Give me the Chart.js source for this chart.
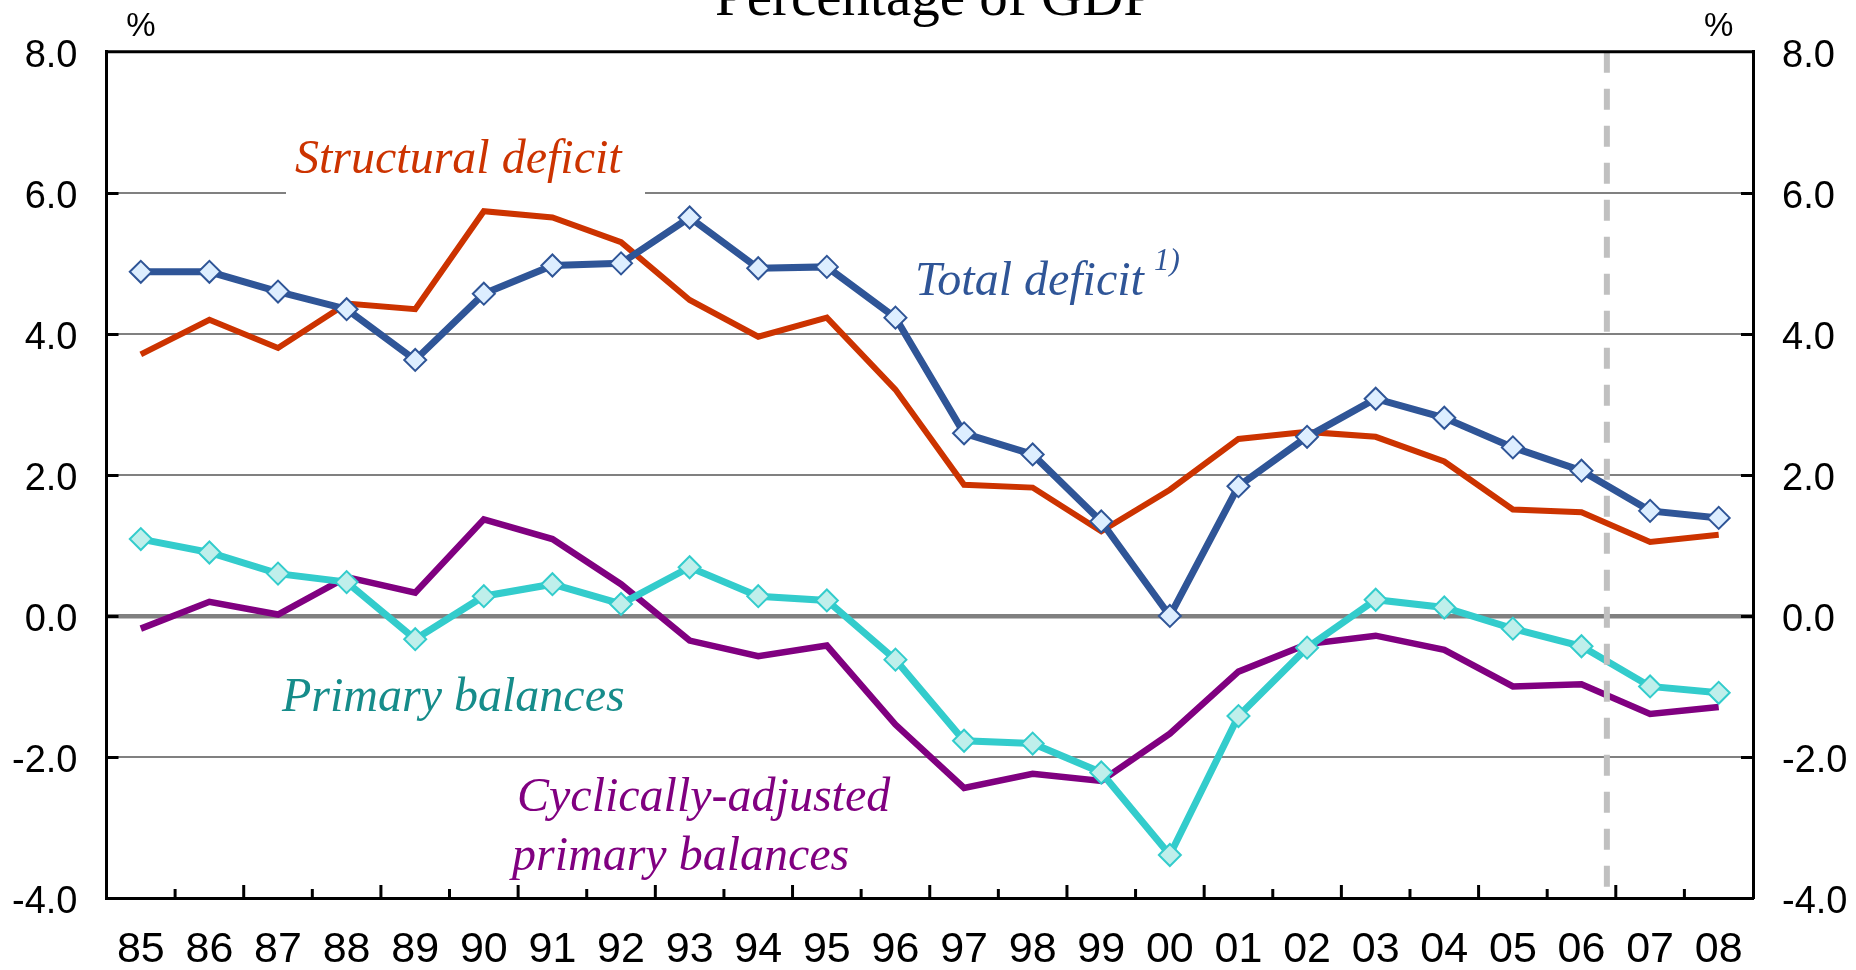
<!DOCTYPE html>
<html><head><meta charset="utf-8">
<script src="https://cdn.jsdelivr.net/npm/chart.js@4.4.1/dist/chart.umd.min.js"></script>
<style>html,body{margin:0;padding:0;background:#fff;overflow:hidden}canvas{display:block}</style>
</head><body>
<canvas id="c" width="1856" height="970"></canvas>
<script>
// ---- data (percentage of GDP) ----
const years = ['85','86','87','88','89','90','91','92','93','94','95','96','97','98','99','00','01','02','03','04','05','06','07','08'];
const totalDeficit = [4.88,4.88,4.60,4.35,3.63,4.57,4.97,5.00,5.65,4.93,4.95,4.23,2.59,2.29,1.34,0.00,1.84,2.54,3.08,2.81,2.39,2.06,1.49,1.39];
const structuralDeficit = [3.71,4.20,3.80,4.43,4.35,5.74,5.65,5.30,4.48,3.96,4.23,3.21,1.86,1.82,1.20,1.79,2.51,2.61,2.54,2.19,1.51,1.47,1.05,1.15];
const primaryBalances = [1.09,0.90,0.60,0.48,-0.33,0.28,0.45,0.17,0.69,0.28,0.22,-0.62,-1.77,-1.81,-2.22,-3.39,-1.42,-0.45,0.23,0.12,-0.18,-0.43,-1.00,-1.09];
const cyclicallyAdjustedPrimary = [-0.18,0.20,0.02,0.55,0.33,1.37,1.09,0.45,-0.35,-0.57,-0.42,-1.54,-2.44,-2.24,-2.34,-1.67,-0.79,-0.40,-0.28,-0.48,-1.00,-0.97,-1.39,-1.29];
const yMin = -4, yMax = 8, yStep = 2;
const projectionBoundary = 21.37; // between 06 and 07 (category index units)

const title = 'Percentage of GDP';
const labels = {
  structural: 'Structural deficit',
  total: 'Total deficit',
  totalNote: '1)',
  primary: 'Primary balances',
  cyclical1: 'Cyclically-adjusted',
  cyclical2: 'primary balances'
};

const SERIF = '"Liberation Serif", "Times New Roman", serif';
const SANS = '"Liberation Sans", Arial, sans-serif';
Chart.defaults.font.family = SANS;

const deco = {
  id: 'deco',
  beforeDatasetsDraw(chart) {
    const {ctx, chartArea: a, scales: {y}} = chart;
    ctx.save();
    // white box behind "Structural deficit"
    ctx.fillStyle = '#ffffff';
    const gy6 = y.getPixelForValue(6);
    ctx.fillRect(286, 125, 359, gy6 + 2 - 125);
    ctx.textBaseline = 'alphabetic';
    ctx.textAlign = 'left';
    ctx.font = 'italic 48px ' + SERIF;
    ctx.fillStyle = '#CC3300';
    ctx.fillText(labels.structural, 295, 173);
    ctx.fillStyle = '#2F5597';
    ctx.fillText(labels.total, 915, 295);
    const w = ctx.measureText(labels.total).width;
    ctx.font = 'italic 31px ' + SERIF;
    ctx.fillText(labels.totalNote, 915 + w + 10, 270);
    ctx.font = 'italic 48px ' + SERIF;
    ctx.fillStyle = '#168C8A';
    ctx.fillText(labels.primary, 282, 711);
    ctx.fillStyle = '#800080';
    ctx.fillText(labels.cyclical1, 517, 811);
    ctx.fillText(labels.cyclical2, 512, 870);
    ctx.restore();
  },
  afterDatasetsDraw(chart) {
    const {ctx, chartArea: a, scales: {x, y}} = chart;
    ctx.save();
    // projection dashed line
    const dx = x.getPixelForValue(projectionBoundary);
    ctx.strokeStyle = '#C0C0C0';
    ctx.lineWidth = 6;
    ctx.setLineDash([21, 16]);
    ctx.beginPath();
    ctx.moveTo(dx, a.top);
    ctx.lineTo(dx, a.bottom - 7);
    ctx.stroke();
    ctx.setLineDash([]);
    // top border
    ctx.strokeStyle = '#000';
    ctx.lineWidth = 3;
    ctx.beginPath();
    ctx.moveTo(a.left - 1.5, a.top);
    ctx.lineTo(a.right + 1.5, a.top);
    ctx.stroke();
    // inward y ticks
    for (let v = yMin + yStep; v < yMax; v += yStep) {
      const py = Math.round(y.getPixelForValue(v)) + 0.5;
      ctx.beginPath();
      ctx.moveTo(a.left, py); ctx.lineTo(a.left + 12, py);
      ctx.moveTo(a.right - 12, py); ctx.lineTo(a.right, py);
      ctx.stroke();
    }
    // inward x ticks at category boundaries (alternating lengths)
    for (let k = 1; k < years.length; k++) {
      const px = x.getPixelForValue(k - 0.5);
      const len = (k % 2 === 0) ? 13 : 9;
      ctx.beginPath();
      ctx.moveTo(px, a.bottom); ctx.lineTo(px, a.bottom - len);
      ctx.stroke();
    }
    // % labels
    ctx.fillStyle = '#000';
    ctx.font = '33px ' + SANS;
    ctx.textAlign = 'center';
    ctx.textBaseline = 'alphabetic';
    ctx.fillText('%', x.getPixelForValue(0), 36);
    ctx.fillText('%', x.getPixelForValue(years.length - 1), 36);
    // title (partly cut at top)
    ctx.font = '57px ' + SERIF;
    ctx.fillText(title, 935, 15);
    ctx.restore();
  }
};

const yTickCfg = {
  stepSize: yStep,
  callback: v => Number(v).toFixed(1),
  font: {size: 38},
  color: '#000',
  padding: 29,
  labelOffset: 5
};

new Chart(document.getElementById('c'), {
  type: 'line',
  data: {
    labels: years,
    datasets: [
      {label: labels.total, data: totalDeficit, borderColor: '#2F5597', borderWidth: 7,
       pointStyle: 'rectRot', pointRadius: 11, pointBackgroundColor: '#DDEEFF',
       pointBorderColor: '#2F5597', pointBorderWidth: 2, tension: 0},
      {label: labels.structural, data: structuralDeficit, borderColor: '#CC3300', borderWidth: 6,
       pointRadius: 0, tension: 0},
      {label: labels.primary, data: primaryBalances, borderColor: '#33CCCC', borderWidth: 7,
       pointStyle: 'rectRot', pointRadius: 11, pointBackgroundColor: '#BFEFEB',
       pointBorderColor: '#33CCCC', pointBorderWidth: 2, tension: 0},
      {label: labels.cyclical1 + ' ' + labels.cyclical2, data: cyclicallyAdjustedPrimary, borderColor: '#800080', borderWidth: 6.5,
       pointRadius: 0, tension: 0}
    ]
  },
  options: {
    responsive: false,
    devicePixelRatio: 1,
    animation: false,
    layout: {padding: {top: 50, left: 0, right: 0, bottom: 0}},
    plugins: {legend: {display: false}, tooltip: {enabled: false}, title: {display: false}},
    scales: {
      x: {
        type: 'category',
        offset: true,
        grid: {display: false, drawTicks: false},
        border: {display: true, color: '#000', width: 3},
        ticks: {font: {size: 43}, color: '#000', padding: 26, maxRotation: 0, autoSkip: false},
        afterFit: s => { s.height = 72; }
      },
      y: {
        min: yMin, max: yMax,
        ticks: yTickCfg,
        grid: {
          drawTicks: false,
          color: c => (c.tick && (c.tick.value === yMin || c.tick.value === yMax)) ? 'rgba(0,0,0,0)' : '#808080',
          lineWidth: c => (c.tick && c.tick.value === 0) ? 4.5 : 2
        },
        border: {color: '#000', width: 3},
        afterFit: s => { s.width = 106.5; }
      },
      y2: {
        position: 'right',
        min: yMin, max: yMax,
        ticks: yTickCfg,
        grid: {drawOnChartArea: false, drawTicks: false},
        border: {color: '#000', width: 3},
        afterFit: s => { s.width = 103; }
      }
    }
  },
  plugins: [deco]
});
</script>
</body></html>
